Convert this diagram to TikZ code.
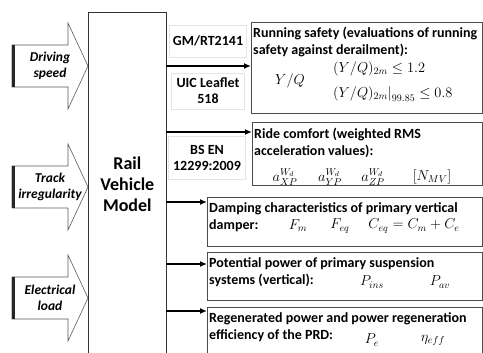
\documentclass[tikz,border=0pt]{standalone}
\usepackage{fontspec}
\setmainfont{Carlito}
\usetikzlibrary{arrows.meta}

\begin{document}
\begin{tikzpicture}[x=1pt, y=-1pt, every node/.style={inner sep=0pt},
  inarrow/.style={draw=gray!70!black, fill=white, line width=0.6pt},
  inlabel/.style={align=center, font=\bfseries\itshape\fontsize{13.5}{16}\selectfont},
  stdbox/.style={draw=gray!20, line width=0.6pt, align=center, font=\bfseries\fontsize{14}{16}\selectfont},
  resbox/.style={draw=gray!60!black, line width=1.1pt, anchor=north west},
  restext/.style={anchor=north west, align=left, font=\bfseries\fontsize{14}{17}\selectfont},
  formula/.style={font=\fontsize{14.5}{16}\selectfont},
  outarrow/.style={-{Latex[length=7pt,width=6pt]}, line width=2.2pt}]
  \path[use as bounding box] (0,0) rectangle (483,353);
  \clip (0,0) rectangle (483,353);

  % Inputs
  \foreach \y/\nm/\txt in {66/ds/{Driving\\speed}, 187/ti/{Track\\irregularity}, 298/el/{Electrical\\load}} {
    \draw[inarrow] (12,\y-21) -- (68,\y-21) -- (68,\y-43) -- (88,\y) -- (68,\y+43) -- (68,\y+21) -- (12,\y+21) -- cycle;
    \draw[line width=3pt, gray!30!black] (13.5,\y-21) -- (13.5,\y+21);
    \node[inlabel] (\nm) at (50,\y) {\txt};
  }

  % Model
  \node[draw=gray!40!black, line width=0.7pt, anchor=north west, minimum width=78pt, minimum height=344pt,
        align=center, font=\bfseries\fontsize{18}{21}\selectfont] (rvm) at (88,12) {Rail\\Vehicle\\Model};

  % Standards
  \node[stdbox, minimum width=77pt, minimum height=32pt] (gm) at (208,41) {GM/RT2141};
  \node[stdbox, minimum width=73pt, minimum height=36pt] (uic) at (208,91) {UIC Leaflet\\518};
  \node[stdbox, minimum width=77pt, minimum height=43pt] (bs) at (207,158) {BS EN\\12299:2009};

  % Results
  \node[resbox, minimum width=231pt, minimum height=91pt] (r1) at (251,22) {};
  \node[resbox, minimum width=230pt, minimum height=63pt] (r2) at (252,122) {};
  \node[resbox, minimum width=275pt, minimum height=49pt] (r3) at (207,197) {};
  \node[resbox, minimum width=275pt, minimum height=48pt] (r4) at (207,252) {};
  \node[resbox, minimum width=275pt, minimum height=52pt] (r5) at (207,307) {};

  \node[restext] (r1t) at (253,27) {Running safety (evaluations of running\\safety against derailment):};
  \node[restext] (r2t) at (254,128) {Ride comfort (weighted RMS\\acceleration values):};
  \node[restext] (r3t) at (209,202) {Damping characteristics of primary vertical\\damper:};
  \node[restext] (r4t) at (209,257) {Potential power of primary suspension\\systems (vertical):};
  \node[restext] (r5t) at (209,312) {Regenerated power and power regeneration\\efficiency of the PRD:};

  \node[formula] (yq) at (290,81) {$Y/Q$};
  \node[formula, anchor=west] (yq1) at (333,69) {$(Y/Q)_{2m}\le 1.2$};
  \node[formula, anchor=west] (yq2) at (333,94) {$(Y/Q)_{2m}\big|_{99.85}\le 0.8$};
  \node[formula] (ax) at (285,177) {$a_{XP}^{W_d}$};
  \node[formula] (ay) at (330,177) {$a_{YP}^{W_d}$};
  \node[formula] (az) at (373,177) {$a_{ZP}^{W_d}$};
  \node[formula] (nmv) at (432,177) {$[N_{MV}]$};
  \node[formula] (fm) at (298,226) {$F_m$};
  \node[formula] (feq) at (340,226) {$F_{eq}$};
  \node[formula] (ceq) at (414,226) {$C_{eq}=C_m+C_e$};
  \node[formula] (pins) at (372,282) {$P_{ins}$};
  \node[formula] (pav) at (440,282) {$P_{av}$};
  \node[formula] (pe) at (372,340) {$P_e$};
  \node[formula] (eta) at (433,340) {$\eta_{eff}$};

  % Outputs
  \foreach \y/\dst in {66/r1, 132/r2, 202/r3, 264/r4, 311/r5} {
    \coordinate (o\dst) at (166,\y);
    \draw[outarrow] (o\dst) -- (\dst.west |- o\dst);
  }
\end{tikzpicture}
\end{document}
